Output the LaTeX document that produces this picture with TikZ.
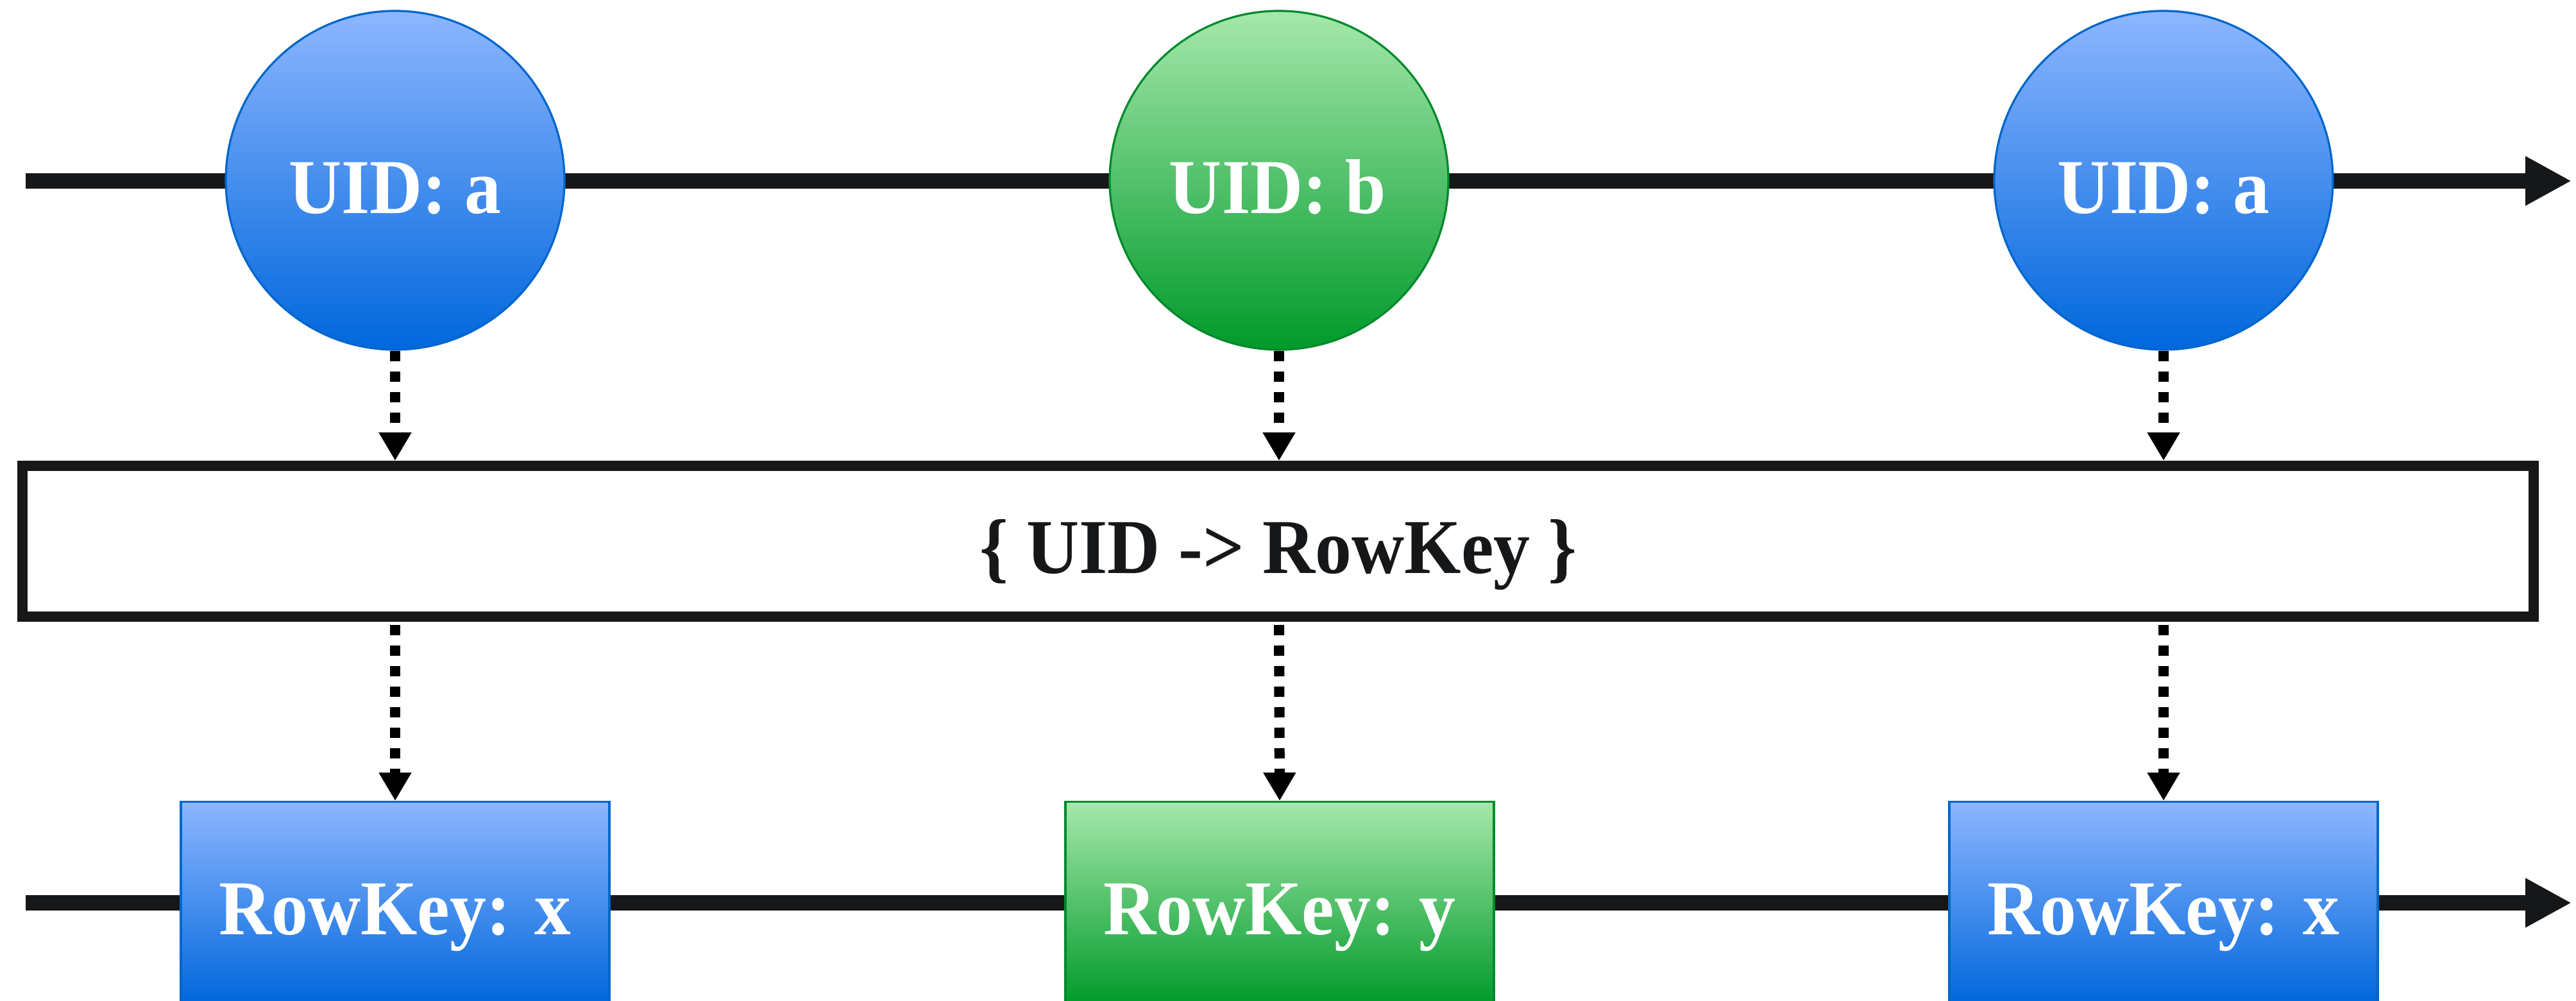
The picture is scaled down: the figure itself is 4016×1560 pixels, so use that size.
\documentclass[tikz,border=0pt]{standalone}
\usepackage{fontspec}
\setmainfont{Liberation Serif}[FakeStretch=0.94]
\usetikzlibrary{arrows.meta,shadows}

\definecolor{ink}{HTML}{161719}
\definecolor{bluetop}{HTML}{8DB6FF}
\definecolor{bluemid}{HTML}{5E9DF2}
\definecolor{bluebot}{HTML}{0067DC}
\definecolor{blueline}{HTML}{0066CC}
\definecolor{greentop}{HTML}{A6E8AC}
\definecolor{greenmid}{HTML}{6CCF7F}
\definecolor{greenbot}{HTML}{009A2A}
\definecolor{greenline}{HTML}{00892C}

\begin{document}
\begin{tikzpicture}[x=0.25pt,y=-0.25pt,
  timeline/.style={draw=ink,line width=6pt,-{Triangle[length=18pt,width=18pt]}},
  flow/.style={draw=black,line width=4pt,dash pattern=on 4pt off 4pt,
    -{Triangle[length=11pt,width=12pt]}},
  bluefill/.style={shading=axis,top color=bluetop,middle color=bluemid,
    bottom color=bluebot,draw=blueline,line width=0.8pt},
  greenfill/.style={shading=axis,top color=greentop,middle color=greenmid,
    bottom color=greenbot,draw=greenline,line width=0.8pt},
  event/.style={circle,minimum size=132pt,inner sep=0pt},
  rowbox/.style={rectangle,minimum width=167pt,minimum height=79pt,inner sep=0pt,anchor=north},
  lbl/.style={anchor=base,inner sep=0pt,text=white,
    font=\fontsize{30.25pt}{36pt}\selectfont\bfseries},
  mapbox/.style={draw=ink,fill=white,line width=4pt,minimum width=978.75pt,
    minimum height=58.75pt,inner sep=0pt,
    drop shadow={shadow xshift=1.8pt,shadow yshift=-1.8pt,opacity=0.25,fill=black}}
]
\useasboundingbox (0,0) rectangle (4016,1560);
\clip (0,0) rectangle (4016,1560);

% time axes
\coordinate (top0) at (40,282);
\coordinate (top1) at (4009,282);
\coordinate (bot0) at (40,1407);
\coordinate (bot1) at (4009,1407);
\draw[timeline] (top0) -- (top1);
\draw[timeline] (bot0) -- (bot1);

% incoming events
\node[event,bluefill]  (c1) at (616,281)  {};
\node[event,greenfill] (c2) at (1994,281) {};
\node[event,bluefill]  (c3) at (3373,281) {};
\node[lbl] (t1) at (616,333)  {UID: a};
\node[lbl] (t2) at (1992,333) {UID: b};
\node[lbl] (t3) at (3373,333) {UID: a};

% lookup table
\node[mapbox] (map) at (1992.5,843.5) {};
\node[lbl,text=ink] (mt) at (1993,894) {\{ UID -> RowKey \}};

% resulting row keys
\node[rowbox,bluefill]  (r1) at (616,1248)  {};
\node[rowbox,greenfill] (r2) at (1995,1248) {};
\node[rowbox,bluefill]  (r3) at (3373,1248) {};
\node[lbl] (u1) at (616,1456)  {RowKey: x};
\node[lbl] (u2) at (1995,1456) {RowKey: y};
\node[lbl] (u3) at (3373,1456) {RowKey: x};

% mapping arrows
\foreach \i in {1,2,3}{
  \draw[flow] (c\i.south) -- (c\i.south |- map.north);
  \draw[flow,shorten <=1.25pt] (c\i.south |- map.south) -- (r\i.north);
}
\end{tikzpicture}
\end{document}
